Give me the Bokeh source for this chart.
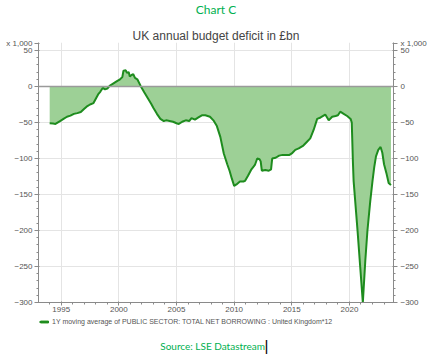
from bokeh.plotting import figure
from bokeh.layouts import column
from bokeh.models import (Range1d, LinearAxis, FixedTicker, Span, Legend,
                          LegendItem, ColumnDataSource, Label, Title)
from bokeh.embed import file_html
from bokeh.resources import INLINE

# ---- data ----
years = [1994.0, 1994.3, 1994.5, 1994.9, 1995.2, 1995.5, 1995.8, 1996.1, 1996.4, 1996.7,
         1997.0, 1997.2, 1997.5, 1997.8, 1998.0, 1998.2, 1998.4, 1998.6, 1998.8, 1999.0,
         1999.2, 1999.5, 1999.8, 2000.1, 2000.3, 2000.4, 2000.6, 2000.7, 2000.85, 2000.95,
         2001.1, 2001.25, 2001.4, 2001.6, 2001.9, 2002.2, 2002.5, 2002.8, 2003.0, 2003.3,
         2003.6, 2003.9, 2004.1, 2004.4, 2004.7, 2005.0, 2005.2, 2005.5, 2005.8, 2006.1,
         2006.3, 2006.6, 2006.9, 2007.2, 2007.5, 2007.9, 2008.2, 2008.5, 2008.8, 2009.1,
         2009.4, 2009.6, 2009.8, 2010.0, 2010.2, 2010.5, 2010.8, 2010.95, 2011.2, 2011.5,
         2011.8, 2012.0, 2012.2, 2012.3, 2012.4, 2012.7, 2013.0, 2013.2, 2013.3, 2013.6,
         2013.9, 2014.2, 2014.5, 2014.8, 2015.0, 2015.3, 2015.6, 2016.0, 2016.3, 2016.6,
         2016.9, 2017.2, 2017.5, 2017.9, 2018.1, 2018.2, 2018.5, 2018.8, 2019.0, 2019.2,
         2019.5, 2019.8, 2020.1, 2020.2, 2020.3, 2020.36, 2020.7, 2020.93, 2021.16, 2021.37,
         2021.56, 2021.8, 2022.0, 2022.15, 2022.3, 2022.5, 2022.7, 2022.85, 2023.0, 2023.2,
         2023.4, 2023.6]
deficit = [-51, -51.5, -52, -48, -45, -42, -40.5, -38, -37, -35.5,
           -31, -28, -25, -23, -17, -11, -7, -2, -4, -3,
           1, 4, 7, 10, 13, 22, 22.5, 19, 20, 14,
           16, 17, 12, 10, 0.5, -8, -16, -24, -30, -38,
           -45, -48, -47, -48, -49, -51, -52, -49, -47, -48,
           -44, -46, -43, -40, -40, -42, -47, -55, -70, -93,
           -108, -117, -128, -138, -136, -132, -132, -131, -124, -115,
           -109, -100, -101, -104, -117, -116, -117, -115, -100, -99,
           -96, -95, -95, -95, -93, -88, -86, -82, -77, -72,
           -60, -45, -43, -39, -44, -47, -42, -41, -40, -35,
           -38, -41, -45, -50, -105, -131, -200, -250, -300, -243,
           -200, -160, -131, -112, -97, -88, -84, -92, -108, -120,
           -134, -137]
y_ticks = [50, 0, -50, -100, -150, -200, -250, -300]
y_minor = list(range(-300, 51, 10))
x_ticks = [1995, 2000, 2005, 2010, 2015, 2020]
x_minor = list(range(1993, 2024))
chart_label = "Chart C"
title_text = "UK annual budget deficit in £bn"
unit_text = "x 1,000"
legend_text = "1Y moving average of PUBLIC SECTOR: TOTAL NET BORROWING : United Kingdom*12"
source_text = "Source:  LSE Datastream"

src = ColumnDataSource(dict(x=years, y=deficit))

# ---- layout constants ----
W = 445
TOP_H, MAIN_H, BOT_H = 26, 290, 39
FL = 38            # frame left (column aligns all frames to this)
Y_TOP = 61.1       # range head-room so the unit note sits just above the 50 line
UNIT_AT = 60.4     # axis position of the unit note
AX = "#8a8a8a"
LAB = "#555555"
FONT = "Liberation Sans"
FILL = "#9dd096"
LINE = "#1e8c1e"

def strip(h):
    f = figure(width=W, height=h, output_backend="svg", toolbar_location=None,
               x_axis_type=None, y_axis_type=None,
               x_range=Range1d(0, 1), y_range=Range1d(0, 1),
               min_border=0)
    f.outline_line_color = None
    f.background_fill_color = "white"
    f.border_fill_color = "white"
    f.grid.visible = False
    return f

def lab(fig, text, x, y, size, color, font, align="center"):
    # x given in page pixels; converted to frame-relative screen units
    fig.add_layout(Label(x=x - FL, y=y, x_units="screen", y_units="screen", text=text,
                         text_font=font, text_font_size=size, text_color=color,
                         text_align=align, text_baseline="middle"))

# ---------- top strip ----------
top = strip(TOP_H)
lab(top, chart_label, 215.5, TOP_H - 8.5, "12px", "#00b050", "Lato")

# ---------- main chart ----------
p = figure(width=W, height=MAIN_H, output_backend="svg", toolbar_location=None,
           x_range=Range1d(1993.03, 2023.82), y_range=Range1d(-300, Y_TOP),
           min_border_left=FL, min_border_right=52, min_border_top=0,
           min_border_bottom=14)
p.outline_line_color = None
p.background_fill_color = "white"
p.border_fill_color = "white"
p.add_layout(Title(text=title_text, align="center", standoff=0,
                   text_font=FONT, text_font_size="12px", text_color="#444444",
                   text_font_style="normal"), "above")

def style_axis(ax, ticks, minor, standoff=2):
    ax.ticker = FixedTicker(ticks=ticks, minor_ticks=minor)
    ax.axis_line_color = AX
    ax.major_tick_line_color = AX
    ax.minor_tick_line_color = AX
    ax.major_tick_out = 4
    ax.major_tick_in = 1
    ax.minor_tick_out = 2
    ax.minor_tick_in = 0
    ax.major_label_text_font = FONT
    ax.major_label_text_font_size = "8px"
    ax.major_label_text_color = LAB
    ax.major_label_standoff = standoff

style_axis(p.yaxis[0], y_ticks + [UNIT_AT], y_minor, 2)
style_axis(p.xaxis[0], x_ticks, x_minor, 1)
p.xaxis[0].major_tick_out = 3
ry = LinearAxis()
style_axis(ry, y_ticks + [UNIT_AT], y_minor, 3)
p.add_layout(ry, "right")
for ax in (p.yaxis[0], ry):
    ax.major_label_overrides = {UNIT_AT: unit_text}

p.xgrid.ticker = FixedTicker(ticks=x_ticks)
p.ygrid.ticker = FixedTicker(ticks=y_ticks)
p.xgrid.grid_line_color = "#e4e4e4"
p.ygrid.grid_line_color = "#e4e4e4"

p.varea(x="x", y1=0, y2="y", source=src, fill_color=FILL)
p.line("x", "y", source=src, line_color=LINE, line_width=2)
p.add_layout(Span(location=0, dimension="width", line_color="#9a9a9a", line_width=1.5))

# ---------- bottom strip: legend + source ----------
bot = strip(BOT_H)
# same series, drawn outside this strip's ranges: only its legend swatch shows
b_area = bot.varea(x="x", y1=0, y2="y", source=src, fill_color=FILL)
b_line = bot.line("x", "y", source=src, line_color=LINE, line_width=2)
legend = Legend(items=[LegendItem(label=legend_text, renderers=[b_area, b_line])],
                location=(39 - FL, BOT_H - 9.5), glyph_width=10, glyph_height=5,
                label_text_font=FONT, label_text_font_size="7px",
                label_text_color=LAB, label_standoff=3, label_height=8,
                background_fill_alpha=0, border_line_color=None,
                padding=0, margin=0, spacing=0)
bot.add_layout(legend)
lab(bot, source_text, 213.4, BOT_H - 29, "10px", "#00b050", "Lato")
lab(bot, "|", 266, BOT_H - 29, "15px", "#000000", FONT)

page = column(top, p, bot, spacing=0)
open("out.html", "w").write(file_html(page, INLINE))
